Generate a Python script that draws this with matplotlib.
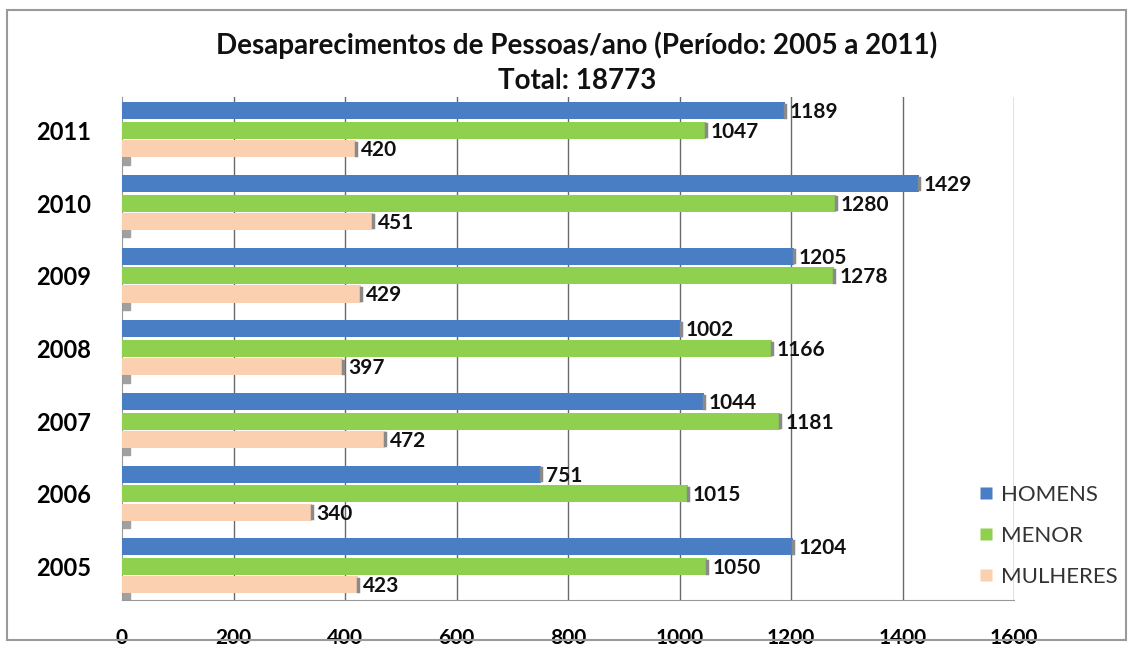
import matplotlib
matplotlib.use("Agg")
import matplotlib.pyplot as plt
from matplotlib.patches import Rectangle
from matplotlib.lines import Line2D

plt.rcParams['font.family'] = ['Lato', 'DejaVu Sans']

years = ["2005", "2006", "2007", "2008", "2009", "2010", "2011"]
homens = [1204, 751, 1044, 1002, 1205, 1429, 1189]
menor = [1050, 1015, 1181, 1166, 1278, 1280, 1047]
mulheres = [423, 340, 472, 397, 429, 451, 420]
series_names = ["HOMENS", "MENOR", "MULHERES"]
colors = ["#4A7EC4", "#8FD14F", "#FAD0B0"]
xticks = [0, 200, 400, 600, 800, 1000, 1200, 1400, 1600]

fig = plt.figure(figsize=(11.31, 6.46), dpi=100)
fig.patches.append(Rectangle((0.006, 0.01), 0.99, 0.975, transform=fig.transFigure,
                             fill=False, edgecolor="#9a9a9a", linewidth=1.5))
ax = fig.add_axes([122/1131, 1-600/646, (1014-122)/1131, (600-97)/646])

offsets = [0.27, 0.0, -0.25]
h = 0.235
for vals, off, col in zip([homens, menor, mulheres], offsets, colors):
    ys = [i + off for i in range(len(years))]
    ax.barh(ys, vals, height=h, color=col, edgecolor="none", zorder=3)
    for y, v in zip(ys, vals):
        ax.plot([v, v], [y - h*0.35, y + h*0.35], color="#8a8a8a", lw=2.5, zorder=4)
        ax.text(v + 9, y - 0.02, str(v), va="center", ha="left", fontsize=15,
                fontweight="bold", color="#111111", zorder=5)

# small gray floor marks at the left of each group
for i in range(len(years)):
    ax.add_patch(Rectangle((0, i - 0.47), 14, 0.12, color="#a0a0a0", zorder=2))

ax.set_xlim(0, 1600)
ax.set_ylim(-0.46, 6.46)
ax.set_xticks(xticks)
ax.set_xticklabels([str(t) for t in xticks], fontsize=15, fontweight="bold")
ax.set_yticks(range(len(years)))
ax.set_yticklabels(years, fontsize=17, fontweight="bold")
ax.tick_params(axis="x", length=0, pad=20)
ax.tick_params(axis="y", length=0, pad=22)
for t in xticks[1:]:
    ax.axvline(t, color="#6a6a6a", lw=1.0, zorder=1)
for s in ["top", "right"]:
    ax.spines[s].set_visible(False)
ax.spines["left"].set_color("#999999")
ax.spines["bottom"].set_color("#999999")

fig.text(577/1131, 1-45/646, "Desaparecimentos de Pessoas/ano (Período: 2005 a 2011)",
         ha="center", va="center", fontsize=20, fontweight="bold", color="#111111")
fig.text(577/1131, 1-81/646, "Total: 18773", ha="center", va="center",
         fontsize=20, fontweight="bold", color="#111111")

handles = [Line2D([0], [0], marker="s", linestyle="none", markersize=9,
                  markerfacecolor=c, markeredgecolor="none") for c in colors]
fig.legend(handles, series_names, loc="center left",
           bbox_to_anchor=(978/1131, 1-536/646), frameon=False, fontsize=16,
           labelcolor="#333333", handlelength=0.7, handletextpad=0.35,
           labelspacing=0.95, borderaxespad=0, borderpad=0)

fig.savefig("out.png", dpi=100)
